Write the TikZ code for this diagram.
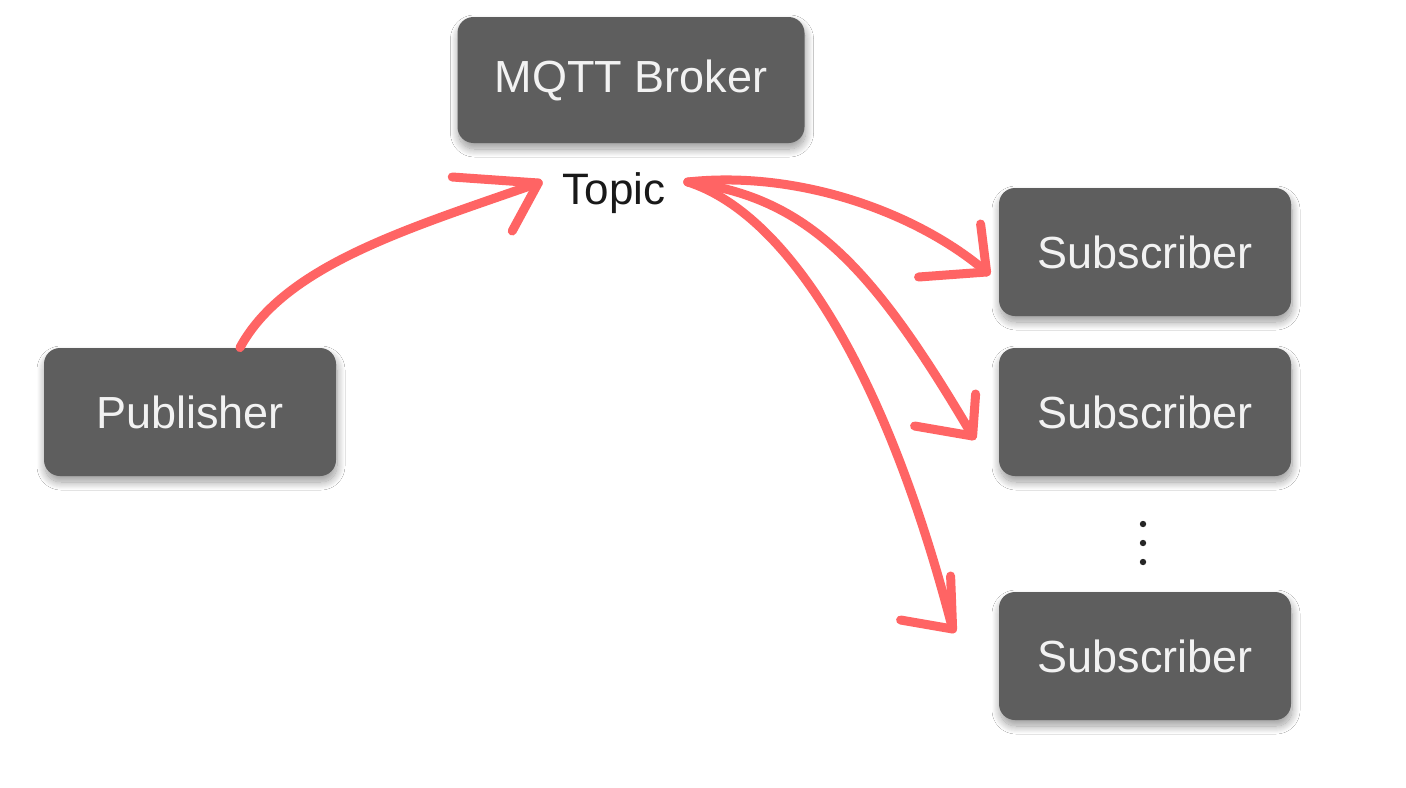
\documentclass[tikz,border=0pt]{standalone}
\usepackage{fontspec}
\setmainfont{Liberation Sans}
\usetikzlibrary{calc,shadows.blur}
\definecolor{boxgray}{HTML}{5E5E5E}
\definecolor{arrred}{HTML}{FF6464}
\definecolor{boxtext}{HTML}{F2F2F2}
\tikzset{
  box/.style={fill=boxgray, rounded corners=8pt, minimum width=146pt, minimum height=64pt,
    text=boxtext, font=\fontsize{22.5}{26}\selectfont, inner sep=0pt,
    blur shadow={shadow xshift=0.5pt, shadow yshift=-3pt, shadow blur steps=16, shadow opacity=40, shadow blur radius=4pt, shadow blur extra rounding=4pt}},
  arr/.style={draw=arrred, line width=4.5pt, line cap=round, line join=round},
}
\begin{document}
\begin{tikzpicture}[x=0.5pt,y=-0.5pt]
\useasboundingbox[fill=white] (0,0) rectangle (1406,787);
\node[box, minimum width=173.5pt, minimum height=63pt] (broker) at (631,80) {MQTT Broker};
\node[box] (pub) at (190,412) {Publisher};
\node[box] (sub1) at (1145,252) {Subscriber};
\node[box] (sub2) at (1145,412) {Subscriber};
\node[box] (sub3) at (1145,656) {Subscriber};
\node[font=\fontsize{22}{26}\selectfont, text=black!90, inner sep=0pt] (topic) at (614,193) {Topic};
% dots
\fill[black!85] (1143,524) circle (1.6pt) (1143,543) circle (1.6pt) (1143,562) circle (1.6pt);
% connector coordinates
\coordinate (s0) at ($(pub.north)+(50,0)$);
\coordinate (t0) at ($(topic.west)+(-24,-10)$);
\coordinate (s1) at ($(topic.east)+(22,-11)$);
\coordinate (t1) at ($(sub1.west)+(-12,20)$);
\coordinate (t2) at ($(sub2.west)+(-26,24)$);
\coordinate (t3) at ($(sub3.west)+(-46,-27)$);
% publisher -> topic
\draw[arr] (s0) .. controls +(45,-83) and +(-128,45) .. (t0);
\draw[arr] ($(t0)+(-86,-6)$) -- (t0) -- ($(t0)+(-26,48)$);
% topic -> subscribers
\draw[arr] (s1) .. controls +(110,-12) and +(-70,-60) .. (t1);
\draw[arr] ($(t1)+(-68,5)$) -- (t1) -- ($(t1)+(-6,-48)$);
\draw[arr] (s1) .. controls +(120,15) and +(-100,-170) .. (t2);
\draw[arr] ($(t2)+(-58,-10)$) -- (t2) -- ($(t2)+(3,-42)$);
\draw[arr] (s1) .. controls +(95,30) and +(-70,-270) .. (t3);
\draw[arr] ($(t3)+(-52,-9)$) -- (t3) -- ($(t3)+(-2,-53)$);
\end{tikzpicture}
\end{document}
